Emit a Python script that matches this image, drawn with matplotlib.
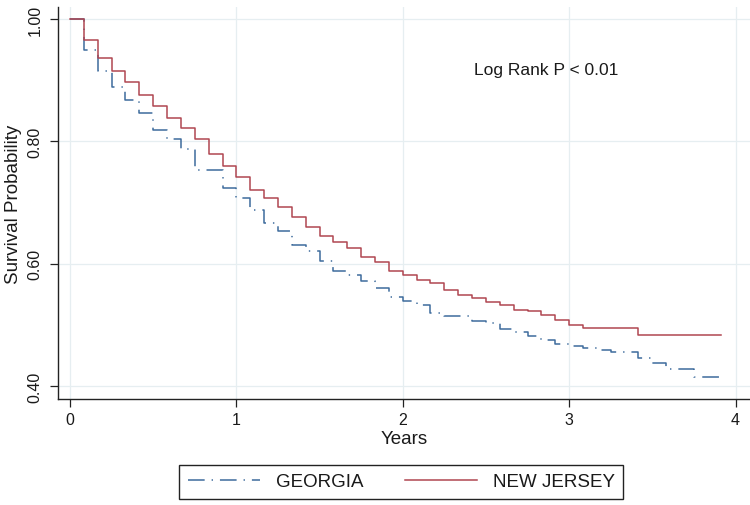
import numpy as np
import matplotlib
matplotlib.use("Agg")
import matplotlib.pyplot as plt

plt.rcParams['font.family'] = ['Liberation Sans', 'DejaVu Sans']
plt.rcParams['lines.scale_dashes'] = False

# Kaplan-Meier estimates at monthly steps
ga_surv = [1.000, 0.950, 0.915, 0.888, 0.868, 0.846, 0.818, 0.803, 0.787, 0.753,
           0.753, 0.723, 0.707, 0.688, 0.666, 0.654, 0.631, 0.621, 0.605, 0.588,
           0.582, 0.572, 0.560, 0.545, 0.539, 0.533, 0.519, 0.515, 0.515, 0.507,
           0.503, 0.493, 0.488, 0.482, 0.475, 0.468, 0.466, 0.462, 0.459, 0.455,
           0.455, 0.445, 0.438, 0.428, 0.428, 0.414]
nj_surv = [1.000, 0.966, 0.936, 0.915, 0.897, 0.876, 0.857, 0.838, 0.821, 0.803,
           0.780, 0.760, 0.741, 0.721, 0.707, 0.692, 0.677, 0.660, 0.646, 0.636,
           0.626, 0.611, 0.602, 0.588, 0.582, 0.574, 0.569, 0.557, 0.548, 0.544,
           0.537, 0.533, 0.525, 0.522, 0.516, 0.508, 0.500, 0.495, 0.495, 0.495,
           0.495, 0.484]
last_followup = 3.91  # years
labels = ["GEORGIA", "NEW JERSEY"]
annotation = "Log Rank P < 0.01"


def km_steps(surv, t_end):
    t = np.arange(len(surv)) / 12.0
    return np.append(t, t_end), np.append(surv, surv[-1])


fig = plt.figure(figsize=(7.5, 5.06), dpi=100)
ax = fig.add_axes([58 / 750, 1 - 400 / 506, 692 / 750, 392 / 506])

ax.grid(True, color="#e6eef1", linewidth=0.9)
ax.set_axisbelow(True)

x, y = km_steps(ga_surv, last_followup)
ax.step(x, y, where="post", color="#3d6b9c", linewidth=1.1,
        dashes=(12, 5, 1, 5), label=labels[0])
x, y = km_steps(nj_surv, last_followup)
ax.step(x, y, where="post", color="#b04651", linewidth=1.1, label=labels[1])

ax.set_xlim(-0.072, 4.087)
ax.set_ylim(0.3787, 1.0196)
ax.set_xticks([0, 1, 2, 3, 4])
ax.set_yticks([0.4, 0.6, 0.8, 1.0])
ax.set_yticklabels(["0.40", "0.60", "0.80", "1.00"], rotation=90, va="center")

for s in ["top", "right"]:
    ax.spines[s].set_visible(False)
for s in ["left", "bottom"]:
    ax.spines[s].set_linewidth(1.0)
    ax.spines[s].set_color("#222222")
ax.tick_params(axis="both", length=6, width=0.9, color="#222222",
               labelsize=11.5, labelcolor="#1a1a1a")
ax.tick_params(axis="y", pad=5)
ax.tick_params(axis="x", pad=3.5)

ax.set_xlabel("Years", fontsize=13.5, color="#1a1a1a", labelpad=2)
ax.set_ylabel("Survival Probability", fontsize=13.5, color="#1a1a1a", labelpad=4)

ax.text(2.43, 0.917, annotation, fontsize=12.5, color="#1a1a1a",
        ha="left", va="center")

leg = fig.legend(loc="center", bbox_to_anchor=(0.535, 0.0464), ncol=2,
                 fontsize=13.5, frameon=True, fancybox=False, framealpha=1,
                 edgecolor="#222222", handlelength=3.85, handletextpad=0.85,
                 columnspacing=2.2, borderpad=0.45)
leg.get_frame().set_linewidth(1.0)
for t in leg.get_texts():
    t.set_color("#1a1a1a")

fig.savefig("out.png", dpi=100)
